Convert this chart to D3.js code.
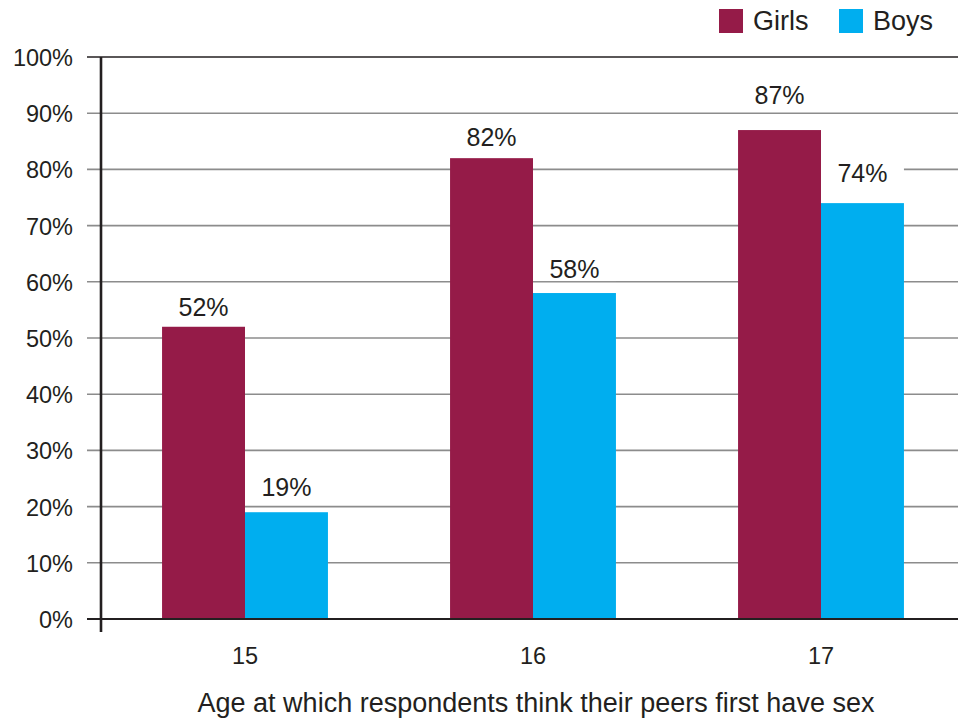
<!DOCTYPE html>
<html>
<head>
<meta charset="utf-8">
<script src="https://cdn.jsdelivr.net/npm/d3@7"></script>
<style>
  html, body { margin: 0; padding: 0; background: #fff; }
  svg { display: block; }
  text { font-family: "Liberation Sans", Arial, sans-serif; fill: #231f20; }
</style>
</head>
<body>
<svg id="chart" width="958" height="721"></svg>
<script>
// Share of respondents, by the age they think their peers first have sex
const ages = ["15", "16", "17"];
const seriesNames = ["Girls", "Boys"];
const girls = [52, 82, 87];
const boys = [19, 58, 74];
const yTicks = [0, 10, 20, 30, 40, 50, 60, 70, 80, 90, 100];
const axisTitle = "Age at which respondents think their peers first have sex";

const colors = { Girls: "#951b48", Boys: "#00aeef" };

const svg = d3.select("#chart");
const W = 958;

const y = d3.scaleLinear().domain([0, 100]).range([619, 57]);
const x0 = d3.scaleBand().domain(ages).range([101, 965])
  .paddingInner(0.424).paddingOuter(0.212);
const x1 = d3.scaleBand().domain(seriesNames).range([0, x0.bandwidth()]);

// Horizontal gridlines
svg.append("g").selectAll("line")
  .data(yTicks.filter(t => t !== 0 && t !== 100))
  .join("line")
  .attr("x1", 87).attr("x2", W)
  .attr("y1", d => y(d)).attr("y2", d => y(d))
  .attr("stroke", "#8c8c8c").attr("stroke-width", 1.6);

// Top rule
svg.append("line")
  .attr("x1", 87).attr("x2", W)
  .attr("y1", y(100)).attr("y2", y(100))
  .attr("stroke", "#231f20").attr("stroke-width", 1.6);

// Y tick labels
const yAxis = d3.axisLeft(y).tickValues(yTicks).tickSize(0).tickPadding(0)
  .tickFormat(d => d + "%");
const gy = svg.append("g").attr("transform", "translate(73,0)").call(yAxis);
gy.select(".domain").remove();
gy.selectAll("text")
  .attr("font-size", 23.5).attr("dy", "0.36em")
  .style("font-family", "'Liberation Sans', Arial, sans-serif")
  .attr("fill", "#231f20");

// Bars
const rows = ages.map((a, i) => ({ age: a, values: [
  { key: "Girls", value: girls[i] },
  { key: "Boys", value: boys[i] }
]}));

const groups = svg.append("g").selectAll("g")
  .data(rows).join("g")
  .attr("transform", d => `translate(${x0(d.age)},0)`);

groups.selectAll("rect.bar")
  .data(d => d.values).join("rect")
  .attr("class", "bar")
  .attr("x", d => x1(d.key))
  .attr("width", x1.bandwidth())
  .attr("y", d => y(d.value))
  .attr("height", d => y(0) - y(d.value))
  .attr("fill", d => colors[d.key]);

// Value labels, each on a white plate that masks the gridlines
const labelGap = { Girls: [11, 12, 26], Boys: [16, 15, 21] };
groups.each(function (row, gi) {
  const g = d3.select(this);
  row.values.forEach(v => {
    const base = y(v.value) - labelGap[v.key][gi];
    g.append("rect")
      .attr("x", x1(v.key))
      .attr("width", x1.bandwidth())
      .attr("y", base - 21)
      .attr("height", 24)
      .attr("fill", "#fff");
    g.append("text")
      .attr("x", x1(v.key) + x1.bandwidth() / 2)
      .attr("y", base)
      .attr("text-anchor", "middle")
      .attr("font-size", 25)
      .text(v.value + "%");
  });
});

// Baseline and vertical axis
svg.append("line")
  .attr("x1", 87).attr("x2", W)
  .attr("y1", y(0)).attr("y2", y(0))
  .attr("stroke", "#231f20").attr("stroke-width", 2.2);
svg.append("line")
  .attr("x1", 101).attr("x2", 101)
  .attr("y1", y(100)).attr("y2", 632)
  .attr("stroke", "#231f20").attr("stroke-width", 2.6);

// Category labels
const xAxis = d3.axisBottom(x0).tickSize(0).tickPadding(0);
const gx = svg.append("g").attr("transform", "translate(0,664)").call(xAxis);
gx.select(".domain").remove();
gx.selectAll("text")
  .attr("font-size", 23.5).attr("dy", 0)
  .style("font-family", "'Liberation Sans', Arial, sans-serif")
  .attr("fill", "#231f20");

// Axis title
svg.append("text")
  .attr("x", 536).attr("y", 712)
  .attr("text-anchor", "middle")
  .attr("font-size", 27)
  .text(axisTitle);

// Legend
const legend = svg.append("g");
const legendX = { Girls: 719, Boys: 839 };
seriesNames.forEach(s => {
  legend.append("rect")
    .attr("x", legendX[s]).attr("y", 9)
    .attr("width", 24).attr("height", 24)
    .attr("fill", colors[s]);
  legend.append("text")
    .attr("x", legendX[s] + 34).attr("y", 30)
    .attr("font-size", 27)
    .text(s);
});
</script>
</body>
</html>
